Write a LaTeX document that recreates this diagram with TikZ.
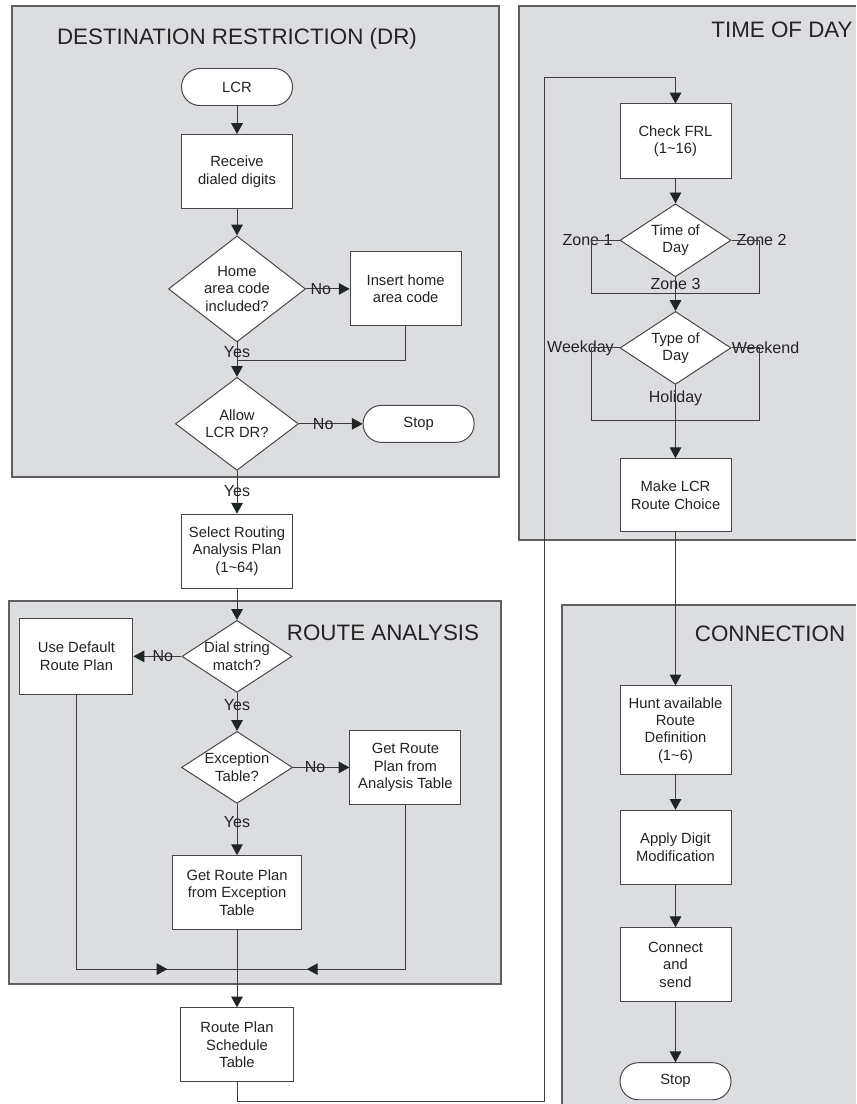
\documentclass[tikz,border=0pt]{standalone}
\usepackage{fontspec}
\setmainfont{Liberation Sans}
\usepackage{tikz}
\usetikzlibrary{arrows.meta, positioning, shapes.geometric, decorations.markings, calc}
\definecolor{panelbg}{RGB}{220,221,225}
\definecolor{panelrim}{RGB}{95,95,95}
\definecolor{boxrim}{RGB}{70,70,70}
\definecolor{wire}{RGB}{60,60,60}
\definecolor{tipc}{RGB}{28,38,38}
\definecolor{ink}{RGB}{35,35,35}
\tikzstyle{process} = [draw=boxrim, fill=white, rectangle, line width=0.7pt,
	minimum width=2.775cm, minimum height=1.85cm, inner sep=1pt, align=center,
	text=ink, font=\fontsize{10.5}{12.4}\selectfont]
\tikzstyle{term} = [process, rounded corners=0.46cm, minimum height=0.925cm]
\tikzstyle{decision} = [process, diamond, shape aspect=1.5, inner sep=0pt]
\tikzstyle{line} = [draw=wire, line width=0.7pt]
\tikzstyle{flow} = [line, -{Triangle[length=0.27cm, width=0.29cm, color=tipc]}]
\tikzstyle{lbl} = [text=ink, font=\fontsize{11.4}{13}\selectfont, inner sep=0pt]
\tikzstyle{title} = [text=ink, font=\fontsize{15.9}{18}\selectfont, inner sep=0pt]
\tikzstyle{panel} = [fill=panelbg, draw=panelrim, line width=1pt]
\tikzset{midflow/.style={line, postaction={decorate}, decoration={markings,
	mark=at position #1 with {\arrow{Triangle[length=0.27cm, width=0.29cm, color=tipc]}}}}}

\begin{document}
\begin{tikzpicture}[x=0.025cm, y=-0.025cm, node distance=0.8cm]
		\useasboundingbox (0,0) rectangle (856,1104);

		% panels
		\path [panel] (12,6) rectangle (499,477);
		\path [panel] (9,601) rectangle (501,984);
		\fill [panelbg] (519,6) rectangle (856,540);
		\draw [panelrim, line width=1pt] (856,6) -- (519,6) -- (519,540) -- (856,540);
		\fill [panelbg] (562,605) rectangle (856,1104);
		\draw [panelrim, line width=1pt] (856,605) -- (562,605) -- (562,1104);

		\node [title] (drtitle) at (237,39) {DESTINATION RESTRICTION (DR)};
		\node [title] (ratitle) at (383,633) {ROUTE ANALYSIS};
		\node [title] (todtitle) at (782,30) {TIME OF DAY};
		\node [title] (contitle) at (770,634) {CONNECTION};

		% destination restriction
		\node [term] (lcr) at (237,87) {LCR};
		\node [process, below=0.7cm of lcr] (recv) {Receive\\dialed digits};
		\node [decision, below=0.66cm of recv, minimum width=3.425cm, minimum height=2.65cm,
			shape aspect=1.3] (home) {Home\\area code\\included?};
		\node [process, right=1.09cm of home] (insert) {Insert home\\area code};
		\node [decision, below=0.86cm of home, minimum width=3.075cm, minimum height=2.325cm,
			shape aspect=1.3] (allow) {Allow\\LCR DR?};
		\node [term, right=1.59cm of allow] (stopa) {Stop};
		\node [process, below=1.07cm of allow] (select) {Select Routing\\Analysis Plan\\(1\textasciitilde64)};

		% route analysis
		\node [decision, below=0.78cm of select, minimum width=2.75cm, minimum height=1.8cm] (dial) {Dial string\\match?};
		\node [process, left=1.2cm of dial, minimum width=2.825cm, minimum height=1.9cm] (usedef) {Use Default\\Route Plan};
		\node [decision, below=0.95cm of dial, minimum width=2.775cm, minimum height=1.8cm] (exc) {Exception\\Table?};
		\node [process, right=1.41cm of exc] (getana) {Get Route\\Plan from\\Analysis Table};
		\node [process, below=1.28cm of exc, minimum width=3.2cm] (getexc) {Get Route Plan\\from Exception\\Table};
		\node [process, below=1.93cm of getexc, minimum width=2.8cm] (plan) {Route Plan\\Schedule\\Table};

		% time of day
		\node [process] (frl) at (675.5,141) {Check FRL\\(1\textasciitilde16)};
		\node [decision, below=0.62cm of frl, minimum width=2.775cm, minimum height=1.825cm] (tod) {Time of\\Day};
		\node [decision, below=0.84cm of tod, minimum width=2.775cm, minimum height=1.825cm] (tday) {Type of\\Day};
		\node [process, below=1.83cm of tday, minimum height=1.825cm] (make) {Make LCR\\Route Choice};

		% connection
		\node [process, below=3.83cm of make, minimum height=2.225cm] (hunt) {Hunt available\\Route\\Definition\\(1\textasciitilde6)};
		\node [process, below=0.86cm of hunt] (apply) {Apply Digit\\Modification};
		\node [process, below=1.06cm of apply] (conn) {Connect\\and\\send};
		\node [term, below=1.5cm of conn] (stopb) {Stop};

		\coordinate (hm) at ($(home.south)+(0,18)$);
		\coordinate (ram) at ($(getexc.south)+(0,39)$);
		\coordinate (zm) at ($(tod.south)+(0,16)$);
		\coordinate (dm) at ($(tday.south)+(0,36)$);
		\coordinate (fbl) at (544,1101);
		\coordinate (fbt) at (544,77);

		\node [lbl] (zone1) at ($(tod.west)+(-32,0)$) {Zone 1};
		\node [lbl] (zone2) at ($(tod.east)+(30,0)$) {Zone 2};
		\node [lbl] (zone3) at ($(tod.south)+(0,7)$) {Zone 3};
		\node [lbl] (wkday) at ($(tday.west)+(-39,0)$) {Weekday};
		\node [lbl] (wkend) at ($(tday.east)+(34,0)$) {Weekend};
		\node [lbl] (holi) at ($(tday.south)+(0,13)$) {Holiday};

		\path [flow] (lcr) -- (recv);
		\path [flow] (recv) -- (home);
		\path [flow] (home.east) -- node [lbl, pos=0.34] {No} (insert.west);
		\path [flow] (home.south) -- node [lbl, pos=0.28] {Yes} (allow.north);
		\path [line] (insert.south) |- (hm);
		\path [flow] (allow.east) -- node [lbl, pos=0.38] {No} (stopa.west);
		\path [flow] (allow.south) -- node [lbl, pos=0.48] {Yes} (select.north);
		\path [flow] (select) -- (dial);
		\path [flow] (dial.west) -- node [lbl, pos=0.39] {No} (usedef.east);
		\path [flow] (dial.south) -- node [lbl, pos=0.33] {Yes} (exc.north);
		\path [flow] (exc.east) -- node [lbl, pos=0.39] {No} (getana.west);
		\path [flow] (exc.south) -- node [lbl, pos=0.35] {Yes} (getexc.north);
		\path [midflow=0.84] (usedef.south) |- (ram);
		\path [midflow=0.79] (getana.south) |- (ram);
		\path [flow] (getexc) -- (plan);
		\path [flow] (plan.south) |- (fbl) -- (fbt) -| (frl.north);

		\path [flow] (frl) -- (tod);
		\path [line] (tod.west) -- ++(-28,0) |- (zm);
		\path [line] (tod.east) -- ++(28,0) |- (zm);
		\path [line] (tod.south) -- (zm);
		\path [flow] (zm) -- (tday.north);
		\path [line] (tday.west) -- ++(-28,0) |- (dm);
		\path [line] (tday.east) -- ++(28,0) |- (dm);
		\path [flow] (tday.south) -- (make.north);
		\path [flow] (make) -- (hunt);
		\path [flow] (hunt) -- (apply);
		\path [flow] (apply) -- (conn);
		\path [flow] (conn) -- (stopb);
	\end{tikzpicture}
\end{document}
